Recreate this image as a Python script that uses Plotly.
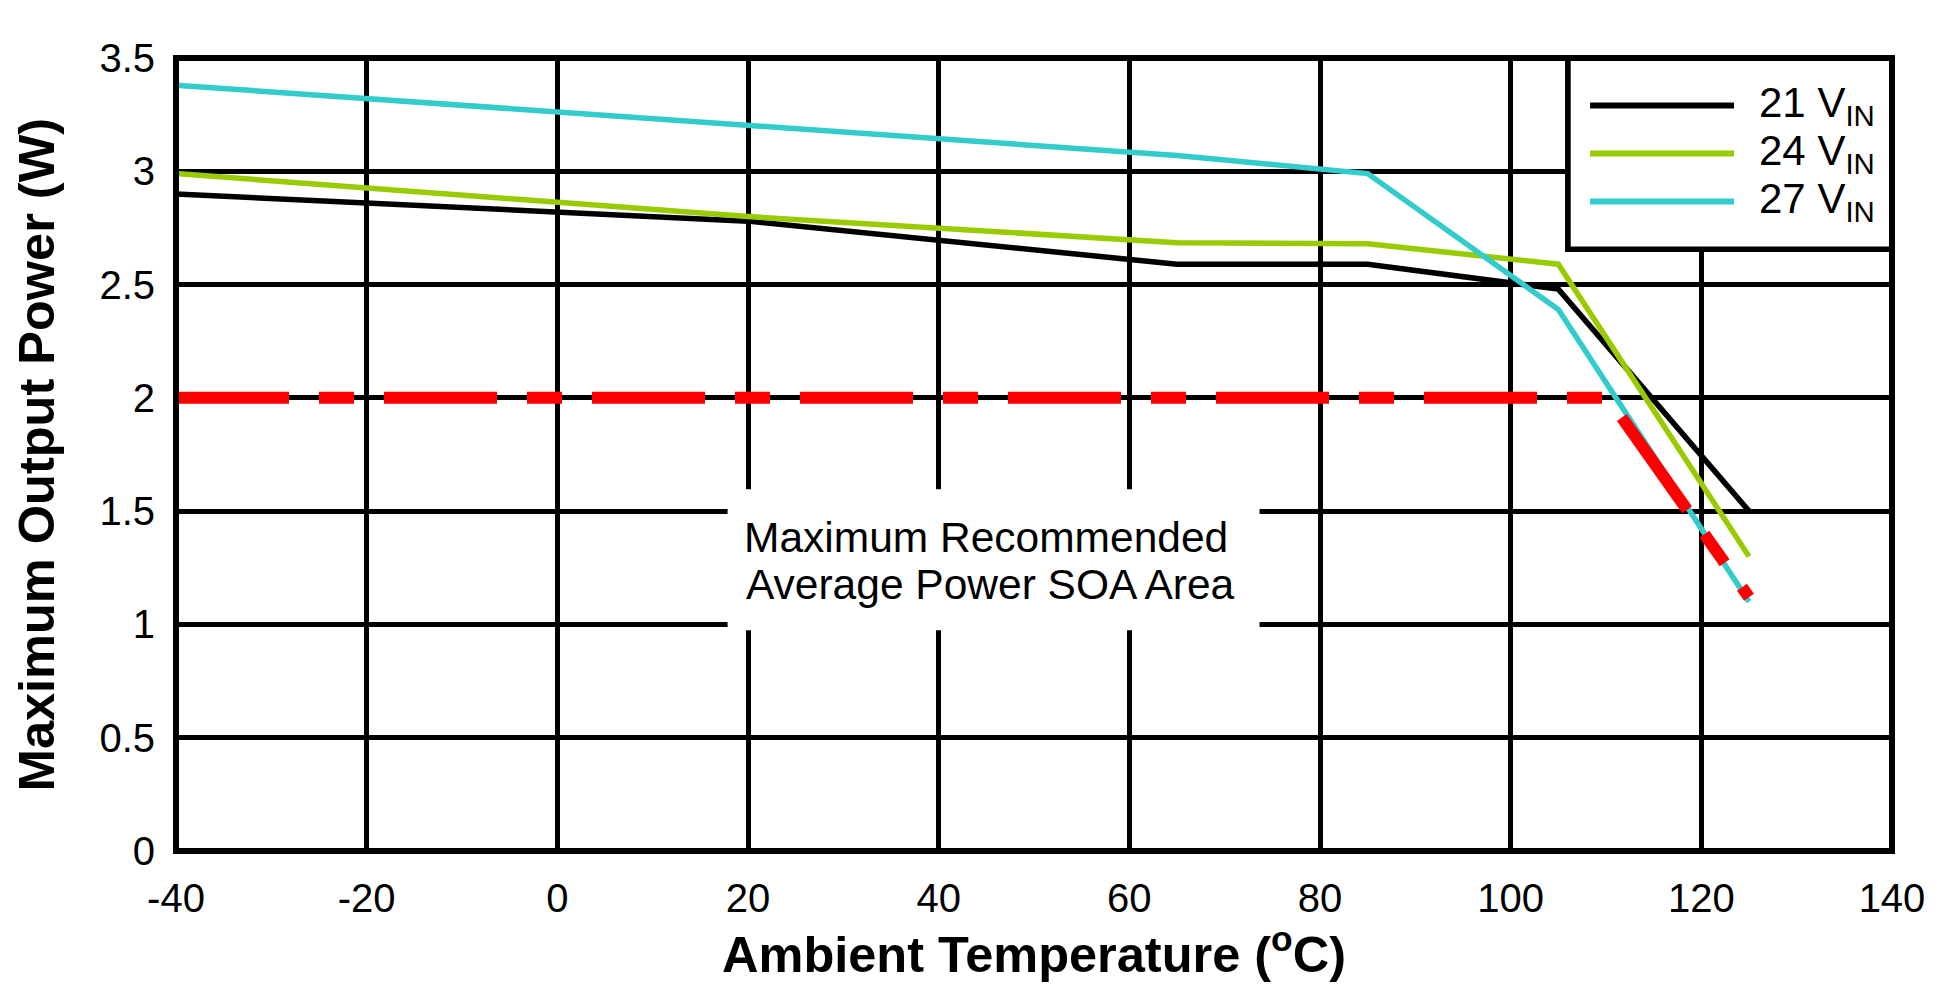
import plotly.graph_objects as go

# ---- data ----
temp_c = [-40, 20, 65, 85, 105, 125]
p_21vin = [2.90, 2.78, 2.59, 2.59, 2.48, 1.50]
p_24vin = [2.99, 2.80, 2.685, 2.68, 2.59, 1.30]
p_27vin = [3.38, 3.20, 3.07, 2.99, 2.39, 1.10]

soa_temp = [-40, 110.2, 125]
soa_power = [2.0, 2.0, 1.12]

series_names = ["21 V<sub>IN</sub>", "24 V<sub>IN</sub>", "27 V<sub>IN</sub>"]
series_colors = ["#000000", "#99CC00", "#33CCCC"]

x_tick_vals = [-40, -20, 0, 20, 40, 60, 80, 100, 120, 140]
x_tick_text = ["-40", "-20", "0", "20", "40", "60", "80", "100", "120", "140"]
y_tick_vals = [0, 0.5, 1, 1.5, 2, 2.5, 3, 3.5]
y_tick_text = ["0", "0.5", "1", "1.5", "2", "2.5", "3", "3.5"]

FONT = "Liberation Sans, Arial, Helvetica, sans-serif"

fig = go.Figure()
for name, ys, col in zip(series_names, [p_21vin, p_24vin, p_27vin], series_colors):
    fig.add_trace(go.Scatter(x=temp_c, y=ys, mode="lines", name=name,
                             line=dict(color=col, width=5.5), showlegend=False))

fig.add_trace(go.Scatter(x=soa_temp, y=soa_power, mode="lines", showlegend=False,
                         line=dict(color="#FF0000", width=12, dash="113px,30px,35px,30px")))

shapes = []
# white box behind the SOA label
shapes.append(dict(type="rect", xref="x", yref="y", x0=17.86, x1=73.66, y0=0.974, y1=1.597,
                   fillcolor="white", line=dict(width=0), layer="above"))
# legend box
shapes.append(dict(type="rect", xref="x", yref="y", x0=106.0, x1=140, y0=2.656, y1=3.5,
                   fillcolor="white", line=dict(color="black", width=5.7), layer="above"))
# plot frame
shapes.append(dict(type="rect", xref="paper", yref="paper", x0=0, x1=1, y0=0, y1=1,
                   line=dict(color="black", width=6), layer="above"))
# legend sample lines
legend_y = [3.29, 3.079, 2.867]
for ly, col in zip(legend_y, series_colors):
    shapes.append(dict(type="line", xref="x", yref="y", x0=108.33, x1=123.43, y0=ly, y1=ly,
                       line=dict(color=col, width=6), layer="above"))

annotations = []
for ly, name in zip(legend_y, series_names):
    annotations.append(dict(x=125.85, y=ly, xref="x", yref="y", text=name, showarrow=False,
                            xanchor="left", yanchor="middle",
                            font=dict(family=FONT, size=42, color="black")))
annotations.append(dict(x=45, y=1.384, xref="x", yref="y", text="Maximum Recommended",
                        showarrow=False, xanchor="center", yanchor="middle",
                        font=dict(family=FONT, size=42.5, color="black")))
annotations.append(dict(x=45.4, y=1.178, xref="x", yref="y", text="Average Power SOA Area",
                        showarrow=False, xanchor="center", yanchor="middle",
                        font=dict(family=FONT, size=42.5, color="black")))

fig.update_layout(
    width=1936, height=975,
    margin=dict(l=168, r=52, t=50, b=132),
    paper_bgcolor="white", plot_bgcolor="white",
    shapes=shapes, annotations=annotations,
    showlegend=False,
    xaxis=dict(range=[-40, 140], tickvals=x_tick_vals, ticktext=x_tick_text,
               showgrid=True, gridcolor="black", gridwidth=5, zeroline=False,
               showline=False, ticks="outside", ticklen=12, tickcolor="rgba(0,0,0,0)",
               tickfont=dict(family=FONT, size=40, color="black"),
               title=dict(text="Ambient Temperature (<sup>o</sup>C)", standoff=16,
                          font=dict(family=FONT, size=50.5, color="black", weight="bold")),
               automargin=False, fixedrange=True),
    yaxis=dict(range=[0, 3.5], tickvals=y_tick_vals, ticktext=y_tick_text,
               showgrid=True, gridcolor="black", gridwidth=5, zeroline=False,
               showline=False, ticks="outside", ticklen=12, tickcolor="rgba(0,0,0,0)",
               tickfont=dict(family=FONT, size=40, color="black"),
               title=dict(text="Maximum Output Power (W)", standoff=30,
                          font=dict(family=FONT, size=50.5, color="black", weight="bold")),
               automargin=False, fixedrange=True),
)

fig.write_html("out.html")
